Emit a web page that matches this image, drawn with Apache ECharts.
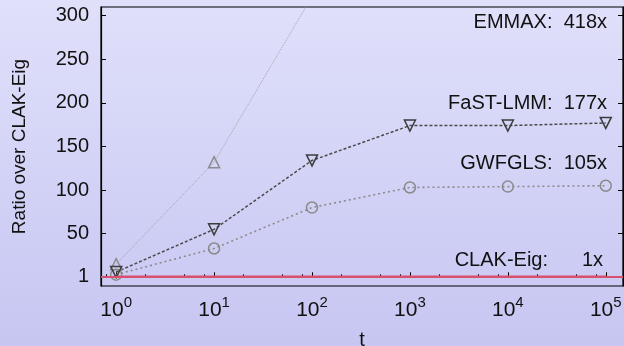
<!DOCTYPE html>
<html>
<head>
<meta charset="utf-8">
<script src="https://cdn.jsdelivr.net/npm/echarts@6/dist/echarts.min.js"></script>
<style>html,body{margin:0;padding:0;}#c{width:624px;height:346px;}</style>
</head>
<body>
<div id="c"></div>
<script>
// ---- data ----
const tValues = [1, 10, 100, 1000, 10000, 100000];
const emmax   = [15, 132, 322, 405, 415, 418];
const fastlmm = [6, 55, 134, 174, 174, 177];
const gwfgls  = [3, 33, 80, 103, 104, 105];
const clakEig = [1, 1, 1, 1, 1, 1];
const yTicks = [1, 50, 100, 150, 200, 250, 300];
const xMajorTicks = [1, 10, 100, 1000, 10000, 100000];
const xMinorTicks = [0.8, 2, 5, 8, 20, 50, 80, 200, 500, 800, 2000, 5000, 8000, 20000, 50000, 80000];
const annotations = [
  { name: 'EMMAX:', value: '418x', y: 22 },
  { name: 'FaST-LMM:', value: '177x', y: 103 },
  { name: 'GWFGLS:', value: '105x', y: 163 },
  { name: 'CLAK-Eig:', value: '1x', y: 260 }
];

const pair = arr => tValues.map((t, i) => [t, arr[i]]);
const FONT = "'Liberation Sans', Arial, Helvetica, sans-serif";

const chart = echarts.init(document.getElementById('c'), null, { renderer: 'canvas' });

const annGraphics = [];
annotations.forEach(a => {
  if (a.name === 'CLAK-Eig:') {
    annGraphics.push({ type: 'text', x: 548, y: a.y, style: { text: a.name, align: 'right', verticalAlign: 'middle', font: '20px ' + FONT, fill: '#111' } });
    annGraphics.push({ type: 'text', x: 603, y: a.y, style: { text: a.value, align: 'right', verticalAlign: 'middle', font: '20px ' + FONT, fill: '#111' } });
  } else {
    annGraphics.push({ type: 'text', x: 607, y: a.y, style: { text: a.name + '  ' + a.value, align: 'right', verticalAlign: 'middle', font: '20px ' + FONT, fill: '#111' } });
  }
});

const option = {
  animation: false,
  backgroundColor: { type: 'linear', x: 0, y: 0, x2: 0, y2: 1, colorStops: [ { offset: 0, color: '#e0e0fb' }, { offset: 1, color: '#c6c6f2' } ] },
  textStyle: { fontFamily: FONT },
  grid: { left: 101, right: 1, top: 7, bottom: 60, containLabel: false, outerBoundsMode: 'none', show: true, borderColor: '#000', borderWidth: 1.2, backgroundColor: 'transparent' },
  xAxis: [
    {
      type: 'log', logBase: 10, min: 0.7, max: 150000,
      name: 't', nameLocation: 'middle', nameGap: 44,
      nameTextStyle: { fontSize: 20, color: '#111', fontFamily: FONT },
      axisLine: { show: true, lineStyle: { color: '#000', width: 1.2 } },
      splitLine: { show: false }, minorSplitLine: { show: false },
      axisTick: { show: true, inside: true, length: 5, customValues: xMajorTicks, lineStyle: { color: '#000' } },
      axisLabel: {
        customValues: xMajorTicks, margin: 9, color: '#111',
        formatter: v => '{b|10}{e|' + Math.round(Math.log10(v)) + '}',
        rich: { b: { fontSize: 21, fontFamily: FONT, color: '#111' }, e: { fontSize: 15, fontFamily: FONT, color: '#111', padding: [0, 0, 16, 0] } }
      }
    },
    {
      type: 'log', logBase: 10, min: 0.7, max: 150000, position: 'bottom',
      axisLine: { show: false }, splitLine: { show: false },
      axisTick: { show: true, inside: true, length: 3, customValues: xMinorTicks, lineStyle: { color: '#000' } },
      axisLabel: { show: false }
    }
  ],
  yAxis: [
    {
      type: 'value', min: -10, max: 310,
      name: 'Ratio over CLAK-Eig', nameLocation: 'middle', nameGap: 72, nameRotate: 90,
      nameTextStyle: { fontSize: 19, color: '#111', fontFamily: FONT },
      axisLine: { show: true, lineStyle: { color: '#000', width: 1.2 } },
      splitLine: { show: false },
      axisTick: { show: true, inside: true, length: 5, customValues: yTicks, lineStyle: { color: '#000' } },
      axisLabel: { customValues: yTicks, margin: 12, fontSize: 20, color: '#111', fontFamily: FONT }
    },
    {
      type: 'value', min: -10, max: 310, position: 'right',
      axisLine: { show: true, lineStyle: { color: '#000', width: 1.2 } },
      splitLine: { show: false },
      axisTick: { show: true, inside: true, length: 5, customValues: yTicks, lineStyle: { color: '#000' } },
      axisLabel: { show: false }
    }
  ],
  graphic: annGraphics,
  series: [
    {
      name: 'CLAK-Eig', type: 'line', data: pair(clakEig), showSymbol: false, symbol: 'none',
      lineStyle: { color: '#d9506c', width: 2 }, z: 1,
      markLine: { silent: true, symbol: 'none', label: { show: false }, lineStyle: { color: '#d9506c', width: 2, type: 'solid' }, data: [{ yAxis: 1 }] }
    },
    {
      name: 'EMMAX', type: 'line', data: pair(emmax), clip: true,
      symbol: 'triangle', symbolSize: 11,
      lineStyle: { color: '#a4a4a4', width: 1, type: 'dotted' },
      itemStyle: { color: 'rgba(0,0,0,0)', borderColor: '#8c8c8c', borderWidth: 1.5 }
    },
    {
      name: 'GWFGLS', type: 'line', data: pair(gwfgls),
      symbol: 'circle', symbolSize: 11,
      lineStyle: { color: '#8a8a8a', width: 1.6, type: [2, 3] },
      itemStyle: { color: 'rgba(0,0,0,0)', borderColor: '#8a8a8a', borderWidth: 1.5 }
    },
    {
      name: 'FaST-LMM', type: 'line', data: pair(fastlmm),
      symbol: 'triangle', symbolRotate: 180, symbolSize: 11,
      lineStyle: { color: '#4a4a4a', width: 1.5, type: [3, 2] },
      itemStyle: { color: 'rgba(0,0,0,0)', borderColor: '#3c3c3c', borderWidth: 1.5 }
    }
  ]
};
chart.setOption(option);
</script>
</body>
</html>
